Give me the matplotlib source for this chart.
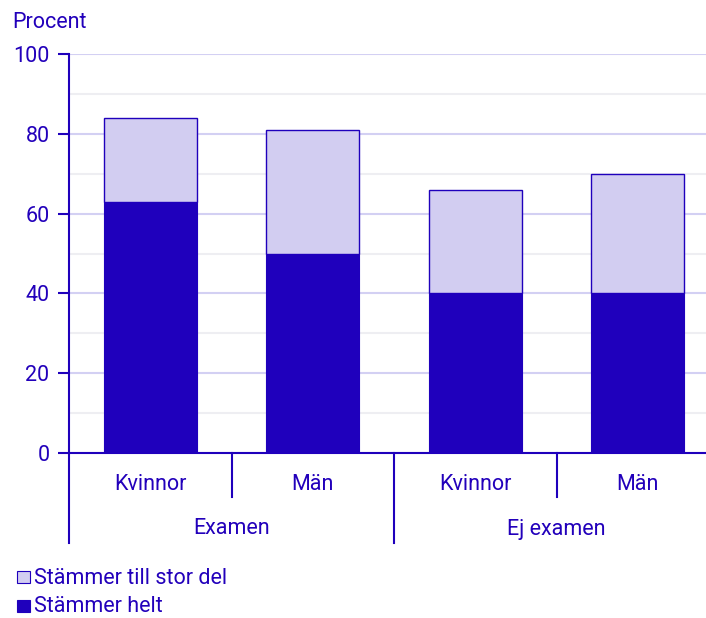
import matplotlib
matplotlib.use("Agg")
import matplotlib.pyplot as plt
from matplotlib.patches import Rectangle
from matplotlib.lines import Line2D

plt.rcParams['font.family'] = ['Roboto', 'DejaVu Sans']

groups = ["Examen", "Ej examen"]
categories = ["Kvinnor", "Män", "Kvinnor", "Män"]
helt = [63, 50, 40, 40]
stor_del = [21, 31, 26, 30]
series_names = ["Stämmer till stor del", "Stämmer helt"]
yticks = [0, 20, 40, 60, 80, 100]

DARK = "#1f00bc"
LIGHT = "#d2cdf1"
TXT = "#2200bb"
FS = 15.5
W, H = 706, 618

fig = plt.figure(figsize=(W / 100, H / 100), dpi=100)
ax_left, ax_right, ax_top, ax_bot = 69, 706, 54, 453
ax = fig.add_axes([ax_left / W, 1 - ax_bot / H, (ax_right - ax_left) / W, (ax_bot - ax_top) / H])

x = list(range(len(categories)))
bw = 0.575
ax.bar(x, helt, width=bw, color=DARK, edgecolor=DARK, linewidth=0.8, zorder=3)
ax.bar(x, stor_del, bottom=helt, width=bw, color=LIGHT, edgecolor=DARK, linewidth=1.0, zorder=3)

step = 162.5
ax.set_xlim(-0.5, -0.5 + (ax_right - ax_left) / step)
ax.set_ylim(0, 100)

ax.set_yticks(yticks)
ax.set_yticklabels([str(t) for t in yticks])
ax.set_yticks([10, 30, 50, 70, 90], minor=True)
ax.tick_params(axis='y', which='major', length=8, width=1.5, color=DARK, labelcolor=TXT, labelsize=FS, pad=6)
ax.tick_params(axis='y', which='minor', length=0)
ax.set_xticks([])
ax.grid(axis='y', which='major', color="#d3d0f3", linewidth=1.5, zorder=0)
ax.grid(axis='y', which='minor', color="#eeeef2", linewidth=1.5, zorder=0)

for s in ['top', 'right']:
    ax.spines[s].set_visible(False)
ax.spines['left'].set_color(DARK)
ax.spines['left'].set_linewidth(1.5)
ax.spines['bottom'].set_color(DARK)
ax.spines['bottom'].set_linewidth(1.5)
ax.spines['bottom'].set_zorder(4)

trans = ax.get_xaxis_transform()
h = ax_bot - ax_top
inner = -(497 - ax_bot) / h
outer = -(543 - ax_bot) / h
for xb in [0.5, 2.5]:
    ax.add_line(Line2D([xb, xb], [0, inner], transform=trans, color=DARK, lw=1.5, clip_on=False))
for xb in [-0.5, 1.5]:
    ax.add_line(Line2D([xb, xb], [0, outer], transform=trans, color=DARK, lw=1.5, clip_on=False))

lab_y = -(485 - ax_bot) / h
grp_y = -(529 - ax_bot) / h
for xi, c in zip(x, categories):
    ax.text(xi, lab_y, c, transform=trans, ha='center', va='center', color=TXT, fontsize=FS)
for gi, g in enumerate(groups):
    ax.text(gi * 2 + 0.5, grp_y, g, transform=trans, ha='center', va='center', color=TXT, fontsize=FS)

fig.text(12 / W, 1 - 23 / H, "Procent", color=TXT, fontsize=FS, ha='left', va='center')

# legend
leg_colors = [LIGHT, DARK]
leg_y = [578, 607]
for name, col, yc in zip(series_names, leg_colors, leg_y):
    fig.patches.append(Rectangle((17 / W, 1 - (yc + 5) / H), 12.5 / W, 12.5 / H, transform=fig.transFigure,
                                 facecolor=col, edgecolor=DARK, linewidth=0.8))
    fig.text(34 / W, 1 - yc / H, name, color=TXT, fontsize=FS, ha='left', va='center')

fig.savefig("out.png", dpi=100)
